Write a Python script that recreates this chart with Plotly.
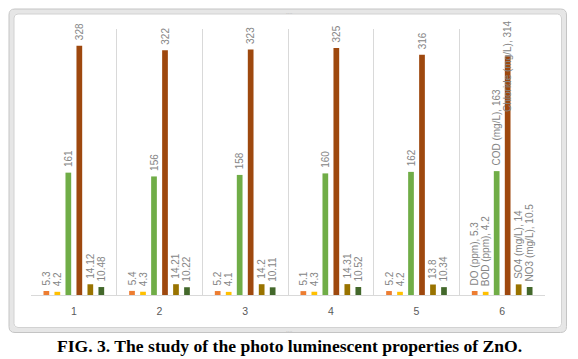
import plotly.graph_objects as go

categories = ["1", "2", "3", "4", "5", "6"]
series_names = ["DO (ppm)", "BOD (ppm)", "COD (mg/L)", "Chloride (mg/L)", "SO4 (mg/L)", "NO3 (mg/L)"]
do_vals = [5.3, 5.4, 5.2, 5.1, 5.2, 5.3]
bod_vals = [4.2, 4.3, 4.1, 4.3, 4.2, 4.2]
cod_vals = [161, 156, 158, 160, 162, 163]
chloride_vals = [328, 322, 323, 325, 316, 314]
so4_vals = [14.12, 14.21, 14.2, 14.31, 13.8, 14]
no3_vals = [10.48, 10.22, 10.11, 10.52, 10.34, 10.5]
colors = ["#ED7D31", "#FFC000", "#70AD47", "#9E480E", "#997300", "#43682B"]
caption = "FIG. 3. The study of the photo luminescent properties of ZnO."

all_vals = [do_vals, bod_vals, cod_vals, chloride_vals, so4_vals, no3_vals]

# the page body has an 8px default margin: lay the figure out in window pixels
OFF = 8
W, H = 578 - OFF, 359 - OFF
PLOT_L, PLOT_R, PLOT_T, PLOT_B = 31, 545, 29, 295  # window pixels
ML, MR, MT, MB = PLOT_L - OFF, W - (PLOT_R - OFF), PLOT_T - OFF, H - (PLOT_B - OFF)
BARGAP = 0.23
LABEL_FONT = dict(family="Liberation Sans, Arial, sans-serif", size=10, color="#858585")


def px2x(px):
    return (px - PLOT_L) / (PLOT_R - PLOT_L)


def px2y(py):
    return (PLOT_B - py) / (PLOT_B - PLOT_T)


def fmt(v):
    return f"{v:g}"


fig = go.Figure()
annotations = []
n = len(series_names)
for i, (name, vals, col) in enumerate(zip(series_names, all_vals, colors)):
    texts = []
    for j, v in enumerate(vals):
        if j == len(vals) - 1:
            t = f"{name}, {fmt(v)}"
        else:
            t = fmt(v)
        texts.append("\u00a0\u00a0" + t)
    if i == 3:
        # last Chloride label overlaps its bar (as in the reference)
        last = texts[-1].strip("\u00a0")
        texts[-1] = ""
        slot = (1 - BARGAP) / n
        annotations.append(dict(
            x=len(categories) - 1 + (i - (n - 1) / 2) * slot, y=vals[-1],
            xref="x", yref="y", text=last, textangle=-90, showarrow=False,
            xanchor="center", yanchor="middle", yshift=-10, font=LABEL_FONT))
    fig.add_trace(go.Bar(
        x=categories, y=vals, name=name, marker_color=col, marker_line_width=0,
        text=texts, textposition="outside", textangle=-90, textfont=LABEL_FONT,
        cliponaxis=False, constraintext="none",
    ))


def rrect(x0, y0, x1, y1, r):
    X0, X1 = px2x(x0), px2x(x1)
    Y0, Y1 = px2y(y0), px2y(y1)
    rx = r / (PLOT_R - PLOT_L)
    ry = r / (PLOT_B - PLOT_T)
    return (f"M {X0+rx},{Y0} L {X1-rx},{Y0} Q {X1},{Y0} {X1},{Y0-ry} "
            f"L {X1},{Y1+ry} Q {X1},{Y1} {X1-rx},{Y1} L {X0+rx},{Y1} "
            f"Q {X0},{Y1} {X0},{Y1+ry} L {X0},{Y0-ry} Q {X0},{Y0} {X0+rx},{Y0} Z")


shapes = [
    dict(type="path", xref="paper", yref="paper", path=rrect(11.5, 11.5, 564, 330, 5),
         line=dict(color="#e6e6e6", width=5), layer="below"),
    dict(type="path", xref="paper", yref="paper", path=rrect(9, 9, 566.5, 332.5, 6),
         line=dict(color="#c4c4c4", width=1), layer="below"),
    dict(type="path", xref="paper", yref="paper", path=rrect(14, 14, 561.5, 327.5, 4),
         line=dict(color="#d2d2d2", width=1), layer="below"),
]

annotations.append(dict(
    x=px2x(289), xref="paper", y=px2y(346), yref="paper", text=f"<b>{caption}</b>",
    showarrow=False, xanchor="center", yanchor="middle",
    font=dict(family="Liberation Serif, Times New Roman, serif", size=17.6, color="#000000")))
for yy in (12.5, 330.5):
    annotations.append(dict(
        x=px2x(289), xref="paper", y=px2y(yy), yref="paper", text="····", showarrow=False,
        xanchor="center", yanchor="middle", font=dict(size=6, color="#b0b0b0"),
        borderpad=0))

fig.update_layout(
    width=W, height=H,
    margin=dict(l=ML, r=MR, t=MT, b=MB, autoexpand=False),
    paper_bgcolor="white", plot_bgcolor="white",
    barmode="group", bargap=BARGAP, bargroupgap=0.48,
    showlegend=False,
    shapes=shapes, annotations=annotations,
    xaxis=dict(type="category", tickson="boundaries", showgrid=True, gridcolor="#d9d9d9",
               gridwidth=1, showline=True, linecolor="#d9d9d9", ticks="",
               ticklabelstandoff=6,
               tickfont=dict(family="Liberation Sans, Arial, sans-serif", size=10.5, color="#595959"),
               zeroline=False),
    yaxis=dict(range=[0, 350], showgrid=False, showticklabels=False, zeroline=False,
               showline=False, ticks=""),
)

fig.write_html("out.html")
